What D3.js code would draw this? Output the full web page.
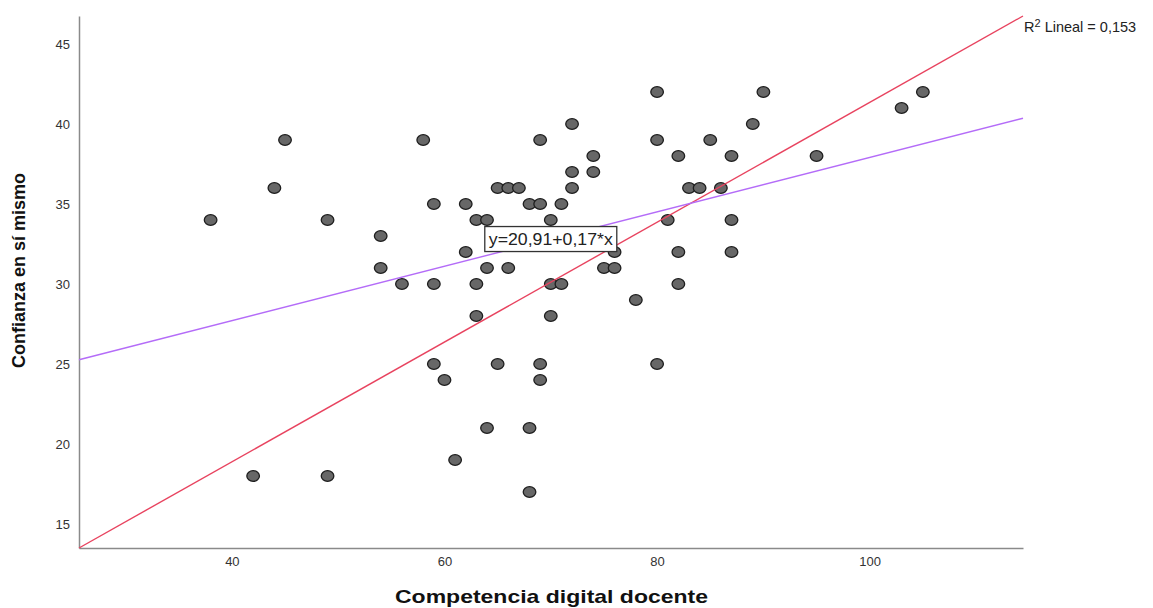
<!DOCTYPE html>
<html>
<head>
<meta charset="utf-8">
<script src="https://cdn.jsdelivr.net/npm/d3@7"></script>
<style>
  html, body { margin: 0; padding: 0; background: #fff; }
  svg { display: block; font-family: "Liberation Sans", Arial, sans-serif; }
</style>
</head>
<body>
<svg id="chart" width="1153" height="608"></svg>
<script>
// ---- data ----
const competencia = [38,42,44,45,49,49,54,54,56,58,59,59,59,60,61,62,62,63,64,63,63,64,64,65,66,67,65,66,68,69,69,70,70,70,69,69,68,68,71,71,72,72,72,74,74,75,76,76,78,80,80,80,81,82,82,82,83,84,85,86,87,87,87,89,90,95,103,105];
const confianza   = [34,18,36,39,34,18,33,31,30,39,35,30,25,24,19,35,32,34,34,30,28,31,21,36,36,36,25,31,35,35,39,34,30,28,25,24,21,17,30,35,40,37,36,38,37,31,31,32,29,42,39,25,34,38,32,30,36,36,39,36,38,34,32,40,42,38,41,42];
const xTicks = [40, 60, 80, 100];
const yTicks = [15, 20, 25, 30, 35, 40, 45];
const xDomain = [25.62, 114.42];
const yDomain = [13.5, 46.75];
const fitIntercept = 20.91;
const fitSlope = 0.17;
const fitLabel = "y=20,91+0,17*x";
const fitLabelAt = 70;
const r2Text = ["R", "2", " Lineal = 0,153"];
const xTitle = "Competencia digital docente";
const yTitle = "Confianza en sí mismo";

(function () {
// ---- layout ----
const svg = d3.select("#chart");
const pLeft = 79, pRight = 1023, pTop = 16, pBottom = 548;
const x = d3.scaleLinear().domain(xDomain).range([pLeft, pRight]);
const y = d3.scaleLinear().domain(yDomain).range([pBottom, pTop]);

// axes
const gx = svg.append("g").attr("transform", `translate(0,${pBottom})`)
  .call(d3.axisBottom(x).tickValues(xTicks).tickSize(0).tickSizeOuter(0).tickPadding(9));
const gy = svg.append("g").attr("transform", `translate(${pLeft},0)`)
  .call(d3.axisLeft(y).tickValues(yTicks).tickSize(0).tickSizeOuter(0).tickPadding(9));
[gx, gy].forEach(g => {
  g.select(".domain").attr("stroke", "#8a8a8a").attr("stroke-width", 1.5);
  g.selectAll(".tick text").attr("fill", "#333").attr("font-size", 13)
    .attr("font-family", "'Liberation Sans', Arial, sans-serif");
});

// points
svg.append("g").selectAll("ellipse")
  .data(competencia.map((c, i) => [c, confianza[i]]))
  .join("ellipse")
  .attr("cx", d => x(d[0]))
  .attr("cy", d => y(d[1]))
  .attr("rx", 6.3)
  .attr("ry", 5.4)
  .attr("fill", "#676767")
  .attr("stroke", "#1e1e1e")
  .attr("stroke-width", 1.3);

// reference diagonal (corner to corner)
svg.append("line")
  .attr("x1", x(xDomain[0])).attr("y1", y(yDomain[0]))
  .attr("x2", x(xDomain[1])).attr("y2", y(yDomain[1]))
  .attr("stroke", "#e8435f").attr("stroke-width", 1.4);

// fit line
const fit = v => fitIntercept + fitSlope * v;
svg.append("line")
  .attr("x1", x(xDomain[0])).attr("y1", y(fit(xDomain[0])))
  .attr("x2", x(xDomain[1])).attr("y2", y(fit(xDomain[1])))
  .attr("stroke", "#b46cf8").attr("stroke-width", 1.4);

// fit label box
const lx = x(fitLabelAt), ly = y(fit(fitLabelAt));
const lbl = svg.append("g");
const tw = 124;
lbl.append("rect")
  .attr("x", lx - tw / 2 - 4).attr("y", ly - 12.5)
  .attr("width", tw + 8).attr("height", 25)
  .attr("fill", "#fff").attr("stroke", "#333").attr("stroke-width", 1.3);
lbl.append("text")
  .attr("x", lx).attr("y", ly + 5.5)
  .attr("text-anchor", "middle")
  .attr("font-size", 16).attr("fill", "#222")
  .attr("textLength", tw).attr("lengthAdjust", "spacingAndGlyphs")
  .text(fitLabel);

// R2 label
const r2 = svg.append("text").attr("x", 1024).attr("y", 32)
  .attr("font-size", 14.5).attr("fill", "#222");
r2.append("tspan").text(r2Text[0]);
r2.append("tspan").attr("font-size", 11).attr("dy", -5).text(r2Text[1]);
r2.append("tspan").attr("dy", 5).text(r2Text[2]);

// axis titles
svg.append("text")
  .attr("x", (395 + 708) / 2).attr("y", 603)
  .attr("text-anchor", "middle")
  .attr("font-size", 19).attr("font-weight", "bold").attr("fill", "#111")
  .attr("textLength", 313).attr("lengthAdjust", "spacingAndGlyphs")
  .text(xTitle);
svg.append("text")
  .attr("transform", `translate(25,${(172 + 369) / 2}) rotate(-90)`)
  .attr("text-anchor", "middle")
  .attr("font-size", 18).attr("font-weight", "bold").attr("fill", "#111")
  .text(yTitle);
})();
</script>
</body>
</html>
